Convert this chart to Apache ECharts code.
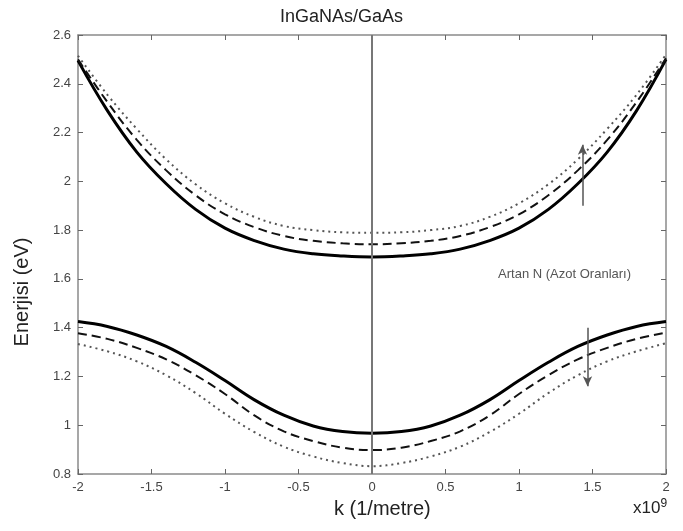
<!DOCTYPE html>
<html>
<head>
<meta charset="utf-8">
<script src="https://cdn.jsdelivr.net/npm/echarts@6/dist/echarts.min.js"></script>
<style>html,body{margin:0;padding:0;background:#fff}#c{width:683px;height:531px}</style>
</head>
<body>
<div id="c"></div>
<script>
// k values (x 10^9 1/m)
const kValues = [-2, -1.8, -1.6, -1.4, -1.2, -1.0, -0.8, -0.6, -0.4, -0.2, 0, 0.2, 0.4, 0.6, 0.8, 1.0, 1.2, 1.4, 1.6, 1.8, 2];
// Conduction band (upper curves)
const upperSolid  = [2.495, 2.290, 2.120, 1.990, 1.885, 1.808, 1.757, 1.722, 1.703, 1.694, 1.690, 1.694, 1.703, 1.722, 1.757, 1.808, 1.885, 1.990, 2.120, 2.290, 2.500];
const upperDashed = [2.500, 2.325, 2.170, 2.045, 1.943, 1.865, 1.812, 1.776, 1.756, 1.746, 1.742, 1.746, 1.756, 1.776, 1.812, 1.865, 1.943, 2.045, 2.170, 2.325, 2.505];
const upperDotted = [2.515, 2.355, 2.215, 2.090, 1.988, 1.910, 1.854, 1.817, 1.800, 1.791, 1.789, 1.791, 1.800, 1.817, 1.854, 1.910, 1.988, 2.090, 2.215, 2.355, 2.520];
// Valence band (lower curves)
const lowerSolid  = [1.425, 1.405, 1.370, 1.323, 1.258, 1.183, 1.104, 1.041, 0.997, 0.974, 0.967, 0.974, 0.997, 1.041, 1.104, 1.183, 1.258, 1.323, 1.370, 1.405, 1.425];
const lowerDashed = [1.377, 1.354, 1.317, 1.270, 1.205, 1.128, 1.040, 0.975, 0.935, 0.908, 0.898, 0.908, 0.935, 0.975, 1.040, 1.128, 1.205, 1.270, 1.317, 1.354, 1.380];
const lowerDotted = [1.333, 1.303, 1.262, 1.205, 1.132, 1.047, 0.972, 0.912, 0.872, 0.845, 0.832, 0.845, 0.872, 0.912, 0.972, 1.047, 1.132, 1.205, 1.262, 1.303, 1.336];
// Annotation arrows (data units)
const arrowUp   = [[1.432, 1.90], [1.432, 2.15]];
const arrowDown = [[1.466, 1.40], [1.466, 1.16]];
const noteText = 'Artan N (Azot Oranları)';
const notePos = [1.31, 1.62];

const pairs = v => kValues.map((k, i) => [k, v[i]]);
const chart = echarts.init(document.getElementById('c'));
const axisGray = '#8a8a8a';
const FONT = 'Liberation Sans, Arial, sans-serif';
const solidStyle = {color: '#000', width: 3, type: 'solid'};
const dashStyle = {color: '#111', width: 2, type: [9, 5]};
const dotStyle = {color: '#555', width: 2, type: [2, 4]};
function lineSeries(name, v, ls) {
  return {name, type: 'line', data: pairs(v), smooth: 0.4, showSymbol: false, lineStyle: ls, silent: true, z: 3};
}
const series = [
  lineSeries('upperSolid', upperSolid, solidStyle),
  lineSeries('upperDashed', upperDashed, dashStyle),
  lineSeries('upperDotted', upperDotted, dotStyle),
  lineSeries('lowerSolid', lowerSolid, solidStyle),
  lineSeries('lowerDashed', lowerDashed, dashStyle),
  lineSeries('lowerDotted', lowerDotted, dotStyle),
  {
    type: 'line', data: [], silent: true,
    markLine: {
      silent: true, symbol: ['none', 'none'], label: {show: false},
      lineStyle: {color: '#777', width: 2, type: 'solid'},
      data: [{xAxis: 0}]
    }
  },
  {
    type: 'line', data: [], silent: true,
    markLine: {
      silent: true, symbol: ['none', 'arrow'], symbolSize: [7, 10], label: {show: false},
      lineStyle: {color: '#555', width: 1.5, type: 'solid'},
      data: [
        [{coord: arrowUp[0]}, {coord: arrowUp[1]}],
        [{coord: arrowDown[0]}, {coord: arrowDown[1]}]
      ]
    },
    markPoint: {
      silent: true,
      data: [{coord: notePos, symbol: 'circle', symbolSize: 1, itemStyle: {color: 'rgba(0,0,0,0)'},
        label: {show: true, position: 'inside', formatter: noteText, color: '#555', fontSize: 13, fontFamily: FONT}}]
    }
  }
];

chart.setOption({
  animation: false,
  backgroundColor: '#fff',
  title: {
    text: 'InGaNAs/GaAs', left: 'center', top: 3,
    textStyle: {fontSize: 18, fontWeight: 'normal', color: '#222', fontFamily: FONT}
  },
  grid: {left: 78, right: 17, top: 35, bottom: 57},
  xAxis: [
    {
      type: 'value', min: -2, max: 2, interval: 0.5, position: 'bottom',
      axisLine: {show: true, onZero: false, lineStyle: {color: axisGray, width: 1.5}},
      axisTick: {show: true, inside: true, length: 5, lineStyle: {color: '#666'}},
      axisLabel: {color: '#444', fontSize: 13, margin: 7, fontFamily: FONT},
      splitLine: {show: false}
    },
    {
      type: 'value', min: -2, max: 2, interval: 0.5, position: 'top',
      axisLine: {show: true, onZero: false, lineStyle: {color: axisGray, width: 1.5}},
      axisTick: {show: true, inside: true, length: 5, lineStyle: {color: '#666'}},
      axisLabel: {show: false}, splitLine: {show: false}
    }
  ],
  yAxis: [
    {
      type: 'value', min: 0.8, max: 2.6, interval: 0.2, position: 'left',
      axisLine: {show: true, onZero: false, lineStyle: {color: axisGray, width: 1.5}},
      axisTick: {show: true, inside: true, length: 5, lineStyle: {color: '#666'}},
      axisLabel: {color: '#444', fontSize: 13, margin: 7, fontFamily: FONT},
      splitLine: {show: false},
      name: 'Enerjisi (eV)', nameLocation: 'middle', nameGap: 46, nameRotate: 90,
      nameTextStyle: {fontSize: 20, color: '#222', fontFamily: FONT, padding: [0, 0, 0, -75]}
    },
    {
      type: 'value', min: 0.8, max: 2.6, interval: 0.2, position: 'right',
      axisLine: {show: true, onZero: false, lineStyle: {color: axisGray, width: 1.5}},
      axisTick: {show: true, inside: true, length: 5, lineStyle: {color: '#666'}},
      axisLabel: {show: false}, splitLine: {show: false}
    }
  ],
  graphic: [
    {type: 'text', left: 334, top: 499,
      style: {text: 'k (1/metre)', fontSize: 20, fill: '#222', fontFamily: FONT}},
    {type: 'text', left: 633, top: 498,
      style: {text: 'x10{s|9}', fontSize: 17, fill: '#222', fontFamily: FONT,
        rich: {s: {fontSize: 12, verticalAlign: 'top', padding: [0, 0, 8, 0], fill: '#222'}}}}
  ],
  series: series
});
</script>
</body>
</html>
